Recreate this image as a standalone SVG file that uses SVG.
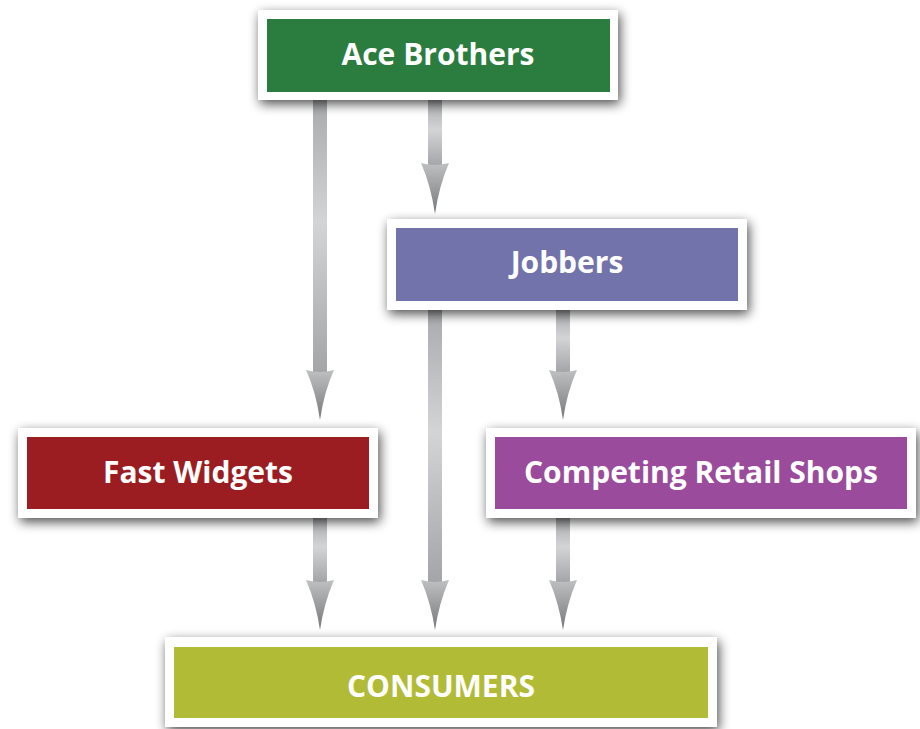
<svg xmlns="http://www.w3.org/2000/svg" width="920" height="729" viewBox="0 0 920 729">
  <defs>
    <linearGradient id="shaftGrad" x1="0" y1="0" x2="0" y2="1">
      <stop offset="0" stop-color="#a9aaad"/>
      <stop offset="0.45" stop-color="#d3d4d6"/>
      <stop offset="1" stop-color="#a4a5a8"/>
    </linearGradient>
    <linearGradient id="headGrad" x1="0" y1="0" x2="0" y2="1">
      <stop offset="0" stop-color="#bfc0c2"/>
      <stop offset="1" stop-color="#77787b"/>
    </linearGradient>
    <filter id="shadow" x="-10%" y="-30%" width="120%" height="170%">
      <feGaussianBlur in="SourceAlpha" stdDeviation="6"/>
      <feOffset dx="2" dy="4" result="b"/>
      <feComponentTransfer>
        <feFuncA type="linear" slope="0.7"/>
      </feComponentTransfer>
      <feMerge>
        <feMergeNode/>
        <feMergeNode in="SourceGraphic"/>
      </feMerge>
    </filter>
    <style>
      .shaft { fill: url(#shaftGrad); }
      .head { fill: url(#headGrad); }
      .outer { fill: #ffffff; filter: url(#shadow); }
      .label { font-family: "Open Sans", "Liberation Sans", sans-serif; font-weight: bold; font-size: 30px; fill: #ffffff; text-anchor: middle; }
    </style>
  </defs>

  <g id="connectors">
    <!-- Ace Brothers -> Fast Widgets -->
    <rect class="shaft" x="313" y="100" width="14" height="272"/>
    <path class="head" d="M306,370 Q314,372 320,372 Q326,372 334,370 Q324,392 320,420 Q316,392 306,370 Z"/>
    <!-- Ace Brothers -> Jobbers -->
    <rect class="shaft" x="428" y="100" width="14" height="66"/>
    <path class="head" d="M421,163 Q429,165 435,165 Q441,165 449,163 Q439,186 435,214 Q431,186 421,163 Z"/>
    <!-- Jobbers -> Consumers -->
    <rect class="shaft" x="428" y="310" width="14" height="272"/>
    <path class="head" d="M421,580 Q429,582 435,582 Q441,582 449,580 Q439,603 435,630 Q431,603 421,580 Z"/>
    <!-- Jobbers -> Competing Retail Shops -->
    <rect class="shaft" x="556" y="310" width="14" height="62"/>
    <path class="head" d="M549,370 Q557,372 563,372 Q569,372 577,370 Q567,392 563,420 Q559,392 549,370 Z"/>
    <!-- Fast Widgets -> Consumers -->
    <rect class="shaft" x="313" y="518" width="14" height="64"/>
    <path class="head" d="M306,580 Q314,582 320,582 Q326,582 334,580 Q324,603 320,630 Q316,603 306,580 Z"/>
    <!-- Competing Retail Shops -> Consumers -->
    <rect class="shaft" x="556" y="518" width="14" height="64"/>
    <path class="head" d="M549,580 Q557,582 563,582 Q569,582 577,580 Q567,603 563,630 Q559,603 549,580 Z"/>
  </g>

  <g id="ace-brothers">
    <rect class="outer" x="258" y="10" width="360" height="90"/>
    <rect x="267" y="19" width="343" height="73" fill="#2b7d3f"/>
    <text class="label" x="438" y="65">Ace Brothers</text>
  </g>

  <g id="jobbers">
    <rect class="outer" x="387" y="219" width="360" height="91"/>
    <rect x="396" y="228" width="342" height="73" fill="#7273ab"/>
    <text class="label" x="567" y="273">Jobbers</text>
  </g>

  <g id="fast-widgets">
    <rect class="outer" x="18" y="428" width="360" height="90"/>
    <rect x="27" y="437" width="342" height="72" fill="#9b1d21"/>
    <text class="label" x="198" y="483">Fast Widgets</text>
  </g>

  <g id="competing-retail-shops">
    <rect class="outer" x="486" y="428" width="430" height="90"/>
    <rect x="495" y="437" width="412" height="72" fill="#9a4b9c"/>
    <text class="label" x="701" y="483">Competing Retail Shops</text>
  </g>

  <g id="consumers">
    <rect class="outer" x="165" y="637" width="552" height="90"/>
    <rect x="174" y="647" width="534" height="71" fill="#b2bb36"/>
    <text class="label" x="441" y="697">CONSUMERS</text>
  </g>
</svg>
